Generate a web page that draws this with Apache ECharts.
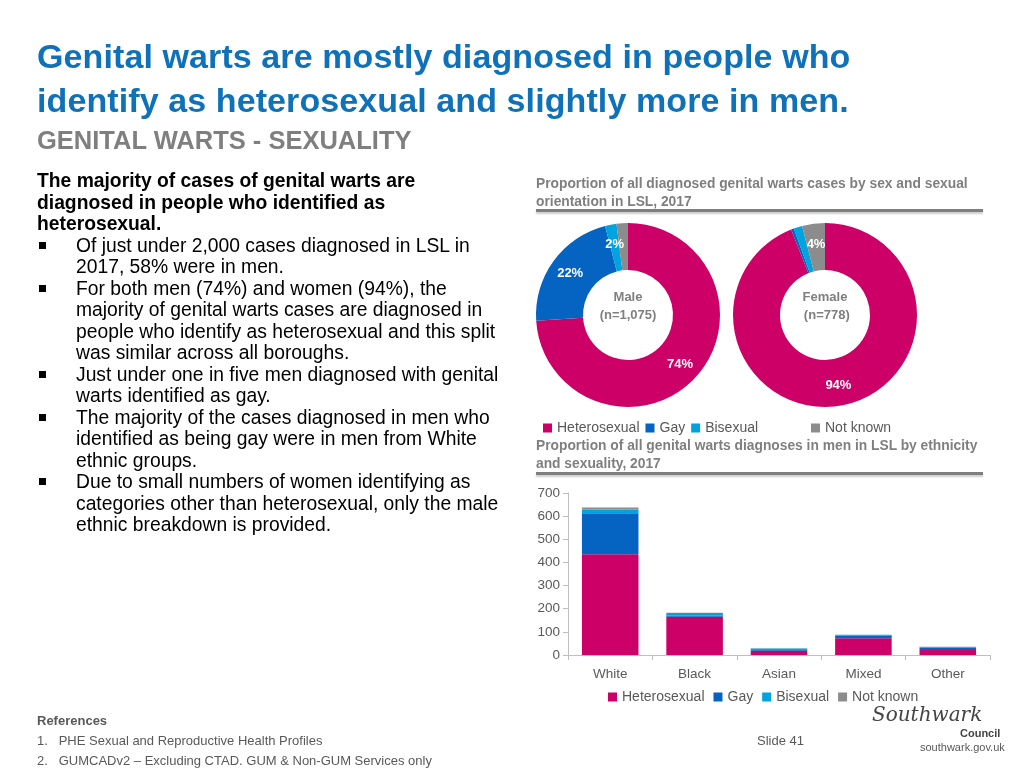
<!DOCTYPE html>
<html><head><meta charset="utf-8">
<script src="https://cdn.jsdelivr.net/npm/echarts@6/dist/echarts.min.js"></script>
<style>
body{margin:0;width:1024px;height:768px;position:relative;font-family:"Liberation Sans",Arial,sans-serif;background:#fff;overflow:hidden}
.a{position:absolute}
#title{left:37px;top:34px;font-size:34px;font-weight:bold;color:#0f72b9;line-height:44px;letter-spacing:0.1px}
#sub{left:37px;top:126px;font-size:25.5px;font-weight:bold;color:#7f7f7f}
#body{left:37px;top:170px;width:475px;font-size:19.3px;color:#000;line-height:21.5px}
#body ul{margin:0;padding:0;list-style:none}
#body li{position:relative;padding-left:39px}
#body li:before{content:"";position:absolute;left:2px;top:7px;width:7px;height:7px;background:#000}
.ct{font-size:13.8px;font-weight:bold;color:#7f7f7f;line-height:18px;left:536px;width:470px;white-space:nowrap}
.rule{left:536px;width:447px;height:3px;background:#7f7f7f;box-shadow:0 2px 2px #ccc}
#refs{left:37px;top:711px;font-size:13px;color:#595959;line-height:20px}
#slide{left:757px;top:733px;font-size:13px;color:#595959}
#logo{left:872px;top:702px;font-family:"DejaVu Serif";font-style:italic;font-size:20px;color:#444}
#council{left:960px;top:727px;font-size:11px;font-weight:bold;color:#444}
#web{left:920px;top:741px;font-size:11px;color:#595959}
#c{left:0;top:0;width:1024px;height:768px}
</style></head><body>
<div id="c" class="a"></div>
<div id="title" class="a">Genital warts are mostly diagnosed in people who<br>identify as heterosexual and slightly more in men.</div>
<div id="sub" class="a">GENITAL WARTS - SEXUALITY</div>
<div id="body" class="a"><b>The majority of cases of genital warts are<br>diagnosed in people who identified as<br>heterosexual.</b>
<ul>
<li>Of just under 2,000 cases diagnosed in LSL in 2017, 58% were in men.</li>
<li>For both men (74%) and women (94%), the majority of genital warts cases are diagnosed in people who identify as heterosexual and this split was similar across all boroughs.</li>
<li>Just under one in five men diagnosed with genital warts identified as gay.</li>
<li>The majority of the cases diagnosed in men who identified as being gay were in men from White ethnic groups.</li>
<li>Due to small numbers of women identifying as categories other than heterosexual, only the male ethnic breakdown is provided.</li>
</ul></div>
<div class="a ct" style="top:175px">Proportion of all diagnosed genital warts cases by sex and sexual<br>orientation in LSL, 2017</div>
<div class="a rule" style="top:209px"></div>
<div class="a ct" style="top:437px">Proportion of all genital warts diagnoses in men in LSL by ethnicity<br>and sexuality, 2017</div>
<div class="a rule" style="top:472px"></div>
<div id="refs" class="a"><b>References</b><br>1.&nbsp;&nbsp;&nbsp;PHE Sexual and Reproductive Health Profiles<br>2.&nbsp;&nbsp;&nbsp;GUMCADv2 – Excluding CTAD. GUM &amp; Non-GUM Services only</div>
<div id="slide" class="a">Slide 41</div>
<div id="logo" class="a">Southwark</div>
<div id="council" class="a">Council</div>
<div id="web" class="a">southwark.gov.uk</div>
<script>
const groups=['Heterosexual','Gay','Bisexual','Not known'];
const colors=['#cc0066','#0563c1','#00a3dd','#8c8c8c'];
const maleShare=[74,22,2,2];
const femaleShare=[94,0.5,1.5,4];
const ethnicities=['White','Black','Asian','Mixed','Other'];
const hetero=[435,165,18,72,22];
const gay=[177,6,7,12,10];
const bisexual=[17,10,3,3,3];
const notKnown=[8,2,1,1,1];
const yTicks=[0,100,200,300,400,500,600,700];

const ch=echarts.init(document.getElementById('c'));
function pie(name,share,center,inner){
  return {type:'pie',name:name,center:center,radius:[inner,92],startAngle:90,clockwise:true,
    color:colors,silent:true,
    label:{show:true,position:'inside',color:'#fff',fontSize:13,fontWeight:'bold',
      formatter:p=>p.value>=1.5?Math.round(p.value)+'%':''},
    labelLine:{show:false},itemStyle:{borderWidth:0},
    data:groups.map((g,i)=>({name:g,value:share[i]}))};
}
const barData=[hetero,gay,bisexual,notKnown];
const lt={color:'#595959',fontSize:14,fontFamily:'Liberation Sans'};
ch.setOption({
  animation:false,
  legend:[
    {data:groups.slice(0,3),left:538,top:416,itemWidth:9,itemHeight:9,itemGap:6,icon:'rect',textStyle:lt},
    {data:groups.slice(3),left:806,top:416,itemWidth:9,itemHeight:9,icon:'rect',textStyle:lt},
    {data:groups,left:603,top:685,itemWidth:9,itemHeight:9,itemGap:9,icon:'rect',textStyle:lt}
  ],
  graphic:[
    {type:'text',x:628,y:306,style:{text:'Male\n(n=1,075)',fill:'#7f7f7f',font:'bold 13px Liberation Sans',align:'center',lineHeight:18,verticalAlign:'middle'}},
    {type:'text',x:825,y:306,style:{text:'Female\n (n=778)',fill:'#7f7f7f',font:'bold 13px Liberation Sans',align:'center',lineHeight:18,verticalAlign:'middle'}}
  ],
  grid:{left:568,top:493,width:422,height:162},
  xAxis:{type:'category',data:ethnicities,axisLine:{lineStyle:{color:'#bfbfbf'}},axisTick:{show:true,lineStyle:{color:'#bfbfbf'}},
    axisLabel:{color:'#595959',fontSize:13.5,margin:12}},
  yAxis:{type:'value',min:0,max:700,interval:100,axisLine:{show:true,lineStyle:{color:'#bfbfbf'}},axisTick:{show:true,lineStyle:{color:'#bfbfbf'}},
    splitLine:{show:false},axisLabel:{color:'#595959',fontSize:13.5,formatter:v=>yTicks.includes(v)?String(v):''}},
  series:[
    pie('Male',maleShare,[628,315],45),
    pie('Female',femaleShare,[825,315],45),
    ...groups.map((g,i)=>({type:'bar',name:g,stack:'s',data:barData[i],barWidth:'67%',itemStyle:{color:colors[i]}}))
  ]
});
</script>
</body></html>
